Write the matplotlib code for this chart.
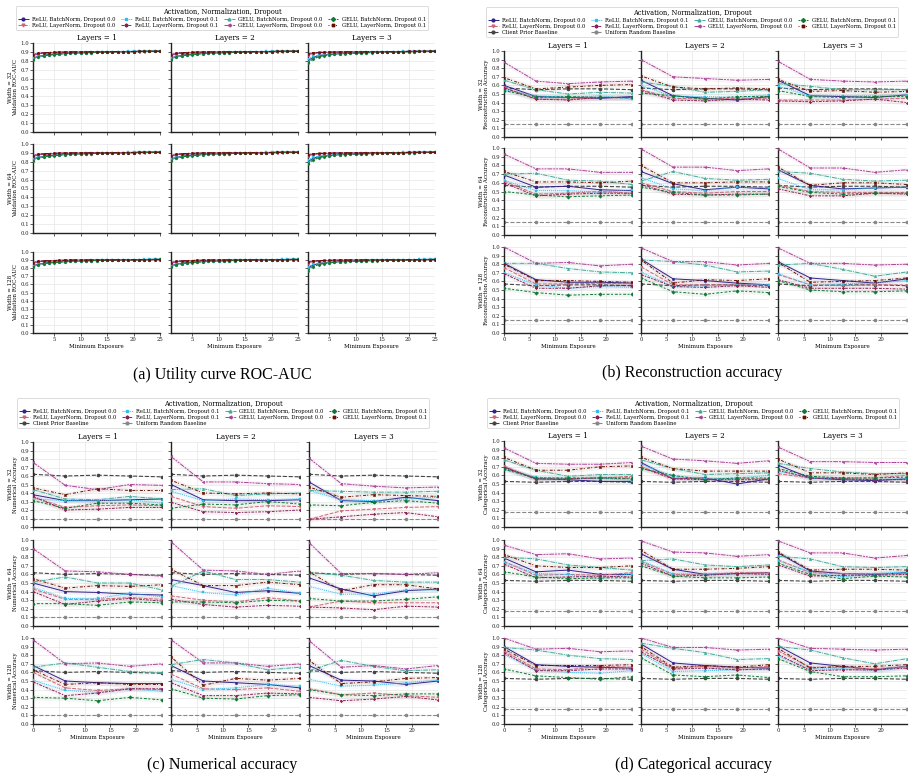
import matplotlib
matplotlib.use("Agg")
import matplotlib.pyplot as plt
from matplotlib.lines import Line2D

plt.rcParams['font.family'] = ['DejaVu Serif']

# series (same order everywhere)
series_names = ["ReLU, BatchNorm, Dropout 0.0", "ReLU, LayerNorm, Dropout 0.0",
                "ReLU, BatchNorm, Dropout 0.1", "ReLU, LayerNorm, Dropout 0.1",
                "GELU, BatchNorm, Dropout 0.0", "GELU, LayerNorm, Dropout 0.0",
                "GELU, BatchNorm, Dropout 0.1", "GELU, LayerNorm, Dropout 0.1"]
series_colors = ["#332288", "#CC6677", "#33BBEE", "#882255",
                 "#44AA99", "#AA4499", "#117733", "#661100"]
series_markers = ["o", "v", "s", "P", "^", "<", "D", "X"]
series_dashes = [(1, 0), (4, 1.5), (1, 1), (3, 1.25, 1.5, 1.25),
                 (5, 1, 1, 1), (5, 1, 2, 1, 2, 1), (2, 2, 3, 1.5), (1, 2.5, 3, 1.2)]

layers = [1, 2, 3]
widths = [32, 64, 128]

# ---- (a) utility curve ROC-AUC, minimum exposure 1..25
roc_x = list(range(1, 26))
roc_layers12 = [
    [0.83, 0.85, 0.86, 0.87, 0.875, 0.88, 0.884, 0.887, 0.889, 0.891, 0.893, 0.895, 0.897, 0.898, 0.900, 0.901, 0.902, 0.903, 0.904, 0.905, 0.906, 0.907, 0.908, 0.909, 0.910],
    [0.86, 0.88, 0.885, 0.89, 0.893, 0.895, 0.897, 0.898, 0.899, 0.900, 0.900, 0.901, 0.901, 0.902, 0.902, 0.903, 0.903, 0.903, 0.904, 0.904, 0.904, 0.905, 0.905, 0.905, 0.905],
    [0.83, 0.85, 0.862, 0.87, 0.876, 0.88, 0.884, 0.887, 0.890, 0.892, 0.894, 0.896, 0.898, 0.899, 0.901, 0.902, 0.903, 0.904, 0.905, 0.906, 0.907, 0.908, 0.909, 0.910, 0.911],
    [0.87, 0.885, 0.89, 0.893, 0.895, 0.897, 0.898, 0.899, 0.900, 0.900, 0.901, 0.901, 0.902, 0.902, 0.903, 0.903, 0.903, 0.904, 0.904, 0.904, 0.905, 0.905, 0.905, 0.905, 0.906],
    [0.82, 0.845, 0.858, 0.866, 0.872, 0.877, 0.881, 0.884, 0.887, 0.889, 0.891, 0.893, 0.895, 0.897, 0.899, 0.900, 0.901, 0.902, 0.903, 0.904, 0.905, 0.906, 0.907, 0.908, 0.909],
    [0.86, 0.88, 0.886, 0.89, 0.893, 0.895, 0.897, 0.898, 0.899, 0.900, 0.900, 0.901, 0.901, 0.902, 0.902, 0.902, 0.903, 0.903, 0.903, 0.904, 0.904, 0.904, 0.905, 0.905, 0.905],
    [0.81, 0.84, 0.855, 0.865, 0.870, 0.875, 0.880, 0.883, 0.886, 0.889, 0.891, 0.893, 0.895, 0.897, 0.899, 0.900, 0.901, 0.902, 0.903, 0.904, 0.905, 0.906, 0.907, 0.908, 0.909],
    [0.87, 0.884, 0.89, 0.893, 0.895, 0.897, 0.898, 0.899, 0.900, 0.900, 0.901, 0.901, 0.902, 0.902, 0.903, 0.903, 0.903, 0.904, 0.904, 0.904, 0.905, 0.905, 0.905, 0.906, 0.906],
]
roc_layers3 = [
    [0.80, 0.84, 0.856, 0.866, 0.873, 0.878, 0.882, 0.886, 0.889, 0.891, 0.893, 0.895, 0.897, 0.898, 0.900, 0.901, 0.902, 0.903, 0.904, 0.905, 0.906, 0.907, 0.908, 0.909, 0.910],
    [0.87, 0.885, 0.89, 0.893, 0.895, 0.897, 0.898, 0.899, 0.900, 0.900, 0.901, 0.901, 0.902, 0.902, 0.903, 0.903, 0.903, 0.904, 0.904, 0.904, 0.905, 0.905, 0.905, 0.905, 0.905],
    [0.82, 0.85, 0.863, 0.871, 0.877, 0.881, 0.885, 0.888, 0.890, 0.892, 0.894, 0.896, 0.898, 0.899, 0.901, 0.902, 0.903, 0.904, 0.905, 0.906, 0.907, 0.908, 0.909, 0.910, 0.911],
    [0.88, 0.89, 0.893, 0.895, 0.897, 0.898, 0.899, 0.900, 0.900, 0.901, 0.901, 0.902, 0.902, 0.903, 0.903, 0.903, 0.904, 0.904, 0.904, 0.905, 0.905, 0.905, 0.905, 0.906, 0.906],
    [0.79, 0.83, 0.85, 0.862, 0.869, 0.875, 0.879, 0.883, 0.886, 0.888, 0.890, 0.892, 0.894, 0.896, 0.898, 0.899, 0.900, 0.901, 0.902, 0.903, 0.904, 0.905, 0.906, 0.907, 0.908],
    [0.87, 0.885, 0.89, 0.893, 0.895, 0.897, 0.898, 0.899, 0.900, 0.900, 0.901, 0.901, 0.902, 0.902, 0.902, 0.903, 0.903, 0.903, 0.904, 0.904, 0.904, 0.905, 0.905, 0.905, 0.905],
    [0.77, 0.82, 0.845, 0.858, 0.866, 0.872, 0.877, 0.881, 0.884, 0.887, 0.889, 0.891, 0.893, 0.895, 0.897, 0.899, 0.900, 0.901, 0.902, 0.903, 0.904, 0.905, 0.906, 0.907, 0.908],
    [0.88, 0.89, 0.894, 0.896, 0.897, 0.898, 0.899, 0.900, 0.900, 0.901, 0.901, 0.902, 0.902, 0.903, 0.903, 0.903, 0.904, 0.904, 0.904, 0.905, 0.905, 0.905, 0.905, 0.906, 0.906],
]

# ---- (b)-(d), minimum exposure points
exposure = [0, 6.25, 12.5, 18.75, 25]

# each: [layers 1, layers 2, layers 3], each 8 series x 5 points
recon_w32 = [
    [[0.60, 0.47, 0.46, 0.45, 0.47], [0.58, 0.44, 0.44, 0.46, 0.45], [0.55, 0.48, 0.46, 0.48, 0.44], [0.57, 0.44, 0.43, 0.46, 0.46],
     [0.66, 0.55, 0.50, 0.52, 0.51], [0.87, 0.65, 0.62, 0.64, 0.65], [0.54, 0.46, 0.47, 0.46, 0.46], [0.69, 0.56, 0.58, 0.60, 0.61]],
    [[0.66, 0.48, 0.45, 0.43, 0.47], [0.55, 0.45, 0.44, 0.45, 0.45], [0.60, 0.47, 0.47, 0.46, 0.49], [0.54, 0.43, 0.42, 0.44, 0.43],
     [0.64, 0.59, 0.52, 0.53, 0.55], [0.90, 0.70, 0.68, 0.66, 0.67], [0.51, 0.48, 0.44, 0.47, 0.47], [0.71, 0.58, 0.56, 0.57, 0.56]],
    [[0.66, 0.48, 0.47, 0.46, 0.49], [0.43, 0.43, 0.43, 0.44, 0.45], [0.59, 0.48, 0.48, 0.48, 0.49], [0.42, 0.41, 0.42, 0.44, 0.40],
     [0.62, 0.59, 0.55, 0.55, 0.55], [0.88, 0.67, 0.65, 0.64, 0.65], [0.54, 0.47, 0.46, 0.47, 0.47], [0.67, 0.53, 0.54, 0.52, 0.53]],
]
recon_w64 = [
    [[0.69, 0.55, 0.56, 0.52, 0.51], [0.62, 0.47, 0.48, 0.50, 0.48], [0.63, 0.51, 0.51, 0.49, 0.52], [0.60, 0.45, 0.47, 0.48, 0.48],
     [0.70, 0.71, 0.63, 0.62, 0.58], [0.93, 0.76, 0.76, 0.72, 0.72], [0.50, 0.46, 0.44, 0.45, 0.46], [0.73, 0.61, 0.61, 0.60, 0.62]],
    [[0.73, 0.59, 0.52, 0.55, 0.53], [0.60, 0.50, 0.48, 0.50, 0.50], [0.66, 0.53, 0.51, 0.55, 0.54], [0.58, 0.47, 0.46, 0.47, 0.47],
     [0.62, 0.73, 0.65, 0.63, 0.64], [0.99, 0.78, 0.78, 0.74, 0.76], [0.55, 0.49, 0.46, 0.46, 0.47], [0.80, 0.60, 0.60, 0.61, 0.61]],
    [[0.75, 0.57, 0.53, 0.54, 0.55], [0.57, 0.50, 0.49, 0.49, 0.49], [0.65, 0.52, 0.52, 0.54, 0.55], [0.53, 0.45, 0.45, 0.48, 0.47],
     [0.73, 0.71, 0.64, 0.62, 0.63], [0.99, 0.77, 0.77, 0.72, 0.75], [0.56, 0.49, 0.47, 0.48, 0.48], [0.78, 0.57, 0.60, 0.60, 0.58]],
]
recon_w128 = [
    [[0.81, 0.62, 0.59, 0.59, 0.58], [0.76, 0.57, 0.57, 0.58, 0.57], [0.70, 0.56, 0.52, 0.54, 0.53], [0.69, 0.52, 0.52, 0.55, 0.55],
     [0.81, 0.81, 0.75, 0.71, 0.70], [1.00, 0.81, 0.82, 0.78, 0.80], [0.52, 0.47, 0.44, 0.45, 0.45], [0.80, 0.61, 0.61, 0.60, 0.59]],
    [[0.86, 0.63, 0.61, 0.58, 0.56], [0.77, 0.56, 0.56, 0.56, 0.56], [0.71, 0.54, 0.55, 0.56, 0.56], [0.68, 0.54, 0.53, 0.55, 0.53],
     [0.85, 0.83, 0.79, 0.71, 0.72], [0.99, 0.83, 0.83, 0.79, 0.81], [0.64, 0.48, 0.45, 0.49, 0.47], [0.85, 0.58, 0.62, 0.61, 0.63]],
    [[0.83, 0.64, 0.61, 0.58, 0.63], [0.68, 0.56, 0.55, 0.56, 0.56], [0.69, 0.56, 0.57, 0.58, 0.61], [0.62, 0.52, 0.52, 0.52, 0.51],
     [0.79, 0.81, 0.74, 0.66, 0.71], [0.99, 0.81, 0.81, 0.79, 0.80], [0.61, 0.50, 0.48, 0.48, 0.49], [0.82, 0.59, 0.60, 0.61, 0.64]],
]
recon_client = [0.57, 0.55, 0.56, 0.56, 0.55]
recon_uniform = [0.15, 0.15, 0.15, 0.15, 0.15]

num_w32 = [
    [[0.38, 0.31, 0.31, 0.32, 0.33], [0.35, 0.23, 0.25, 0.26, 0.25], [0.33, 0.31, 0.31, 0.32, 0.28], [0.36, 0.20, 0.21, 0.23, 0.23],
     [0.44, 0.33, 0.32, 0.36, 0.33], [0.76, 0.49, 0.44, 0.50, 0.49], [0.31, 0.22, 0.28, 0.28, 0.26], [0.46, 0.38, 0.45, 0.43, 0.43]],
    [[0.50, 0.32, 0.31, 0.31, 0.32], [0.36, 0.24, 0.22, 0.25, 0.24], [0.42, 0.31, 0.33, 0.32, 0.33], [0.29, 0.18, 0.17, 0.18, 0.20],
     [0.44, 0.45, 0.37, 0.39, 0.40], [0.83, 0.53, 0.53, 0.51, 0.50], [0.22, 0.27, 0.26, 0.30, 0.27], [0.55, 0.40, 0.39, 0.40, 0.39]],
    [[0.53, 0.31, 0.30, 0.35, 0.31], [0.09, 0.19, 0.21, 0.23, 0.24], [0.43, 0.32, 0.31, 0.33, 0.35], [0.09, 0.12, 0.15, 0.17, 0.12],
     [0.43, 0.42, 0.41, 0.41, 0.42], [0.81, 0.51, 0.48, 0.46, 0.47], [0.26, 0.25, 0.29, 0.31, 0.28], [0.47, 0.35, 0.38, 0.37, 0.36]],
]
num_w64 = [
    [[0.50, 0.40, 0.39, 0.37, 0.36], [0.43, 0.31, 0.31, 0.33, 0.31], [0.45, 0.32, 0.32, 0.38, 0.34], [0.40, 0.25, 0.29, 0.32, 0.29],
     [0.51, 0.57, 0.50, 0.50, 0.42], [0.90, 0.64, 0.63, 0.60, 0.58], [0.26, 0.26, 0.24, 0.28, 0.27], [0.55, 0.44, 0.47, 0.46, 0.48]],
    [[0.54, 0.47, 0.39, 0.41, 0.38], [0.35, 0.30, 0.28, 0.33, 0.29], [0.47, 0.39, 0.36, 0.44, 0.38], [0.31, 0.25, 0.22, 0.24, 0.23],
     [0.46, 0.64, 0.54, 0.54, 0.51], [0.98, 0.65, 0.64, 0.60, 0.64], [0.28, 0.28, 0.27, 0.30, 0.29], [0.66, 0.47, 0.47, 0.51, 0.48]],
    [[0.56, 0.43, 0.35, 0.41, 0.43], [0.22, 0.29, 0.27, 0.27, 0.27], [0.46, 0.37, 0.37, 0.42, 0.42], [0.22, 0.21, 0.19, 0.23, 0.22],
     [0.62, 0.59, 0.53, 0.51, 0.51], [0.97, 0.61, 0.61, 0.60, 0.62], [0.32, 0.29, 0.29, 0.31, 0.34], [0.63, 0.41, 0.48, 0.48, 0.43]],
]
num_w128 = [
    [[0.68, 0.50, 0.48, 0.47, 0.47], [0.60, 0.42, 0.39, 0.41, 0.40], [0.51, 0.39, 0.37, 0.41, 0.38], [0.49, 0.33, 0.36, 0.41, 0.41],
     [0.66, 0.71, 0.66, 0.61, 0.60], [0.98, 0.70, 0.71, 0.67, 0.70], [0.31, 0.30, 0.27, 0.31, 0.28], [0.63, 0.46, 0.48, 0.46, 0.46]],
    [[0.68, 0.50, 0.48, 0.46, 0.42], [0.58, 0.41, 0.40, 0.42, 0.38], [0.52, 0.40, 0.42, 0.46, 0.44], [0.48, 0.33, 0.33, 0.36, 0.35],
     [0.69, 0.75, 0.71, 0.63, 0.66], [0.98, 0.71, 0.71, 0.67, 0.70], [0.41, 0.30, 0.29, 0.33, 0.34], [0.78, 0.45, 0.53, 0.51, 0.53]],
    [[0.68, 0.51, 0.50, 0.46, 0.50], [0.41, 0.34, 0.36, 0.33, 0.31], [0.52, 0.44, 0.45, 0.48, 0.51], [0.31, 0.27, 0.29, 0.32, 0.28],
     [0.62, 0.74, 0.67, 0.62, 0.63], [0.97, 0.66, 0.68, 0.64, 0.68], [0.40, 0.34, 0.33, 0.35, 0.35], [0.74, 0.47, 0.49, 0.53, 0.54]],
]
num_client = [0.62, 0.60, 0.61, 0.60, 0.59]
num_uniform = [0.10, 0.10, 0.10, 0.10, 0.10]

cat_w32 = [
    [[0.70, 0.56, 0.55, 0.53, 0.53], [0.71, 0.55, 0.56, 0.57, 0.59], [0.67, 0.58, 0.56, 0.57, 0.54], [0.69, 0.56, 0.56, 0.57, 0.57],
     [0.78, 0.66, 0.59, 0.61, 0.61], [0.92, 0.74, 0.73, 0.73, 0.75], [0.67, 0.57, 0.57, 0.57, 0.56], [0.81, 0.66, 0.66, 0.70, 0.71]],
    [[0.75, 0.56, 0.57, 0.50, 0.56], [0.70, 0.57, 0.56, 0.56, 0.56], [0.73, 0.59, 0.56, 0.57, 0.60], [0.69, 0.56, 0.55, 0.55, 0.55],
     [0.78, 0.68, 0.61, 0.62, 0.63], [0.94, 0.79, 0.77, 0.74, 0.77], [0.68, 0.60, 0.55, 0.57, 0.57], [0.81, 0.68, 0.65, 0.65, 0.65]],
    [[0.72, 0.57, 0.55, 0.54, 0.56], [0.62, 0.57, 0.57, 0.57, 0.60], [0.65, 0.57, 0.56, 0.55, 0.56], [0.66, 0.57, 0.56, 0.55, 0.55],
     [0.74, 0.68, 0.64, 0.62, 0.62], [0.93, 0.76, 0.76, 0.75, 0.75], [0.68, 0.59, 0.57, 0.57, 0.58], [0.79, 0.63, 0.63, 0.61, 0.63]],
]
cat_w64 = [
    [[0.79, 0.63, 0.65, 0.60, 0.60], [0.75, 0.59, 0.60, 0.59, 0.62], [0.74, 0.61, 0.60, 0.55, 0.61], [0.72, 0.56, 0.57, 0.58, 0.57],
     [0.80, 0.78, 0.71, 0.68, 0.65], [0.94, 0.83, 0.84, 0.78, 0.79], [0.63, 0.57, 0.55, 0.56, 0.56], [0.83, 0.70, 0.68, 0.68, 0.70]],
    [[0.84, 0.66, 0.60, 0.61, 0.62], [0.75, 0.60, 0.60, 0.62, 0.62], [0.76, 0.61, 0.60, 0.61, 0.61], [0.73, 0.58, 0.59, 0.61, 0.60],
     [0.76, 0.78, 0.71, 0.69, 0.71], [0.99, 0.86, 0.85, 0.81, 0.83], [0.70, 0.58, 0.56, 0.56, 0.57], [0.88, 0.66, 0.66, 0.67, 0.69]],
    [[0.85, 0.64, 0.61, 0.60, 0.62], [0.77, 0.62, 0.61, 0.61, 0.61], [0.76, 0.63, 0.57, 0.61, 0.63], [0.71, 0.58, 0.59, 0.59, 0.60],
     [0.81, 0.78, 0.69, 0.68, 0.69], [0.99, 0.85, 0.85, 0.79, 0.82], [0.73, 0.60, 0.55, 0.58, 0.57], [0.86, 0.65, 0.66, 0.66, 0.65]],
]
cat_w128 = [
    [[0.90, 0.69, 0.67, 0.66, 0.65], [0.85, 0.64, 0.63, 0.67, 0.66], [0.81, 0.63, 0.60, 0.59, 0.62], [0.83, 0.62, 0.62, 0.64, 0.64],
     [0.89, 0.86, 0.80, 0.76, 0.75], [1.00, 0.87, 0.88, 0.84, 0.85], [0.64, 0.56, 0.54, 0.52, 0.55], [0.87, 0.68, 0.68, 0.68, 0.69]],
    [[0.93, 0.71, 0.68, 0.66, 0.65], [0.87, 0.65, 0.67, 0.65, 0.67], [0.82, 0.61, 0.62, 0.63, 0.64], [0.84, 0.64, 0.65, 0.63, 0.64],
     [0.94, 0.88, 0.83, 0.75, 0.76], [1.00, 0.89, 0.89, 0.86, 0.87], [0.77, 0.57, 0.55, 0.57, 0.54], [0.90, 0.66, 0.68, 0.66, 0.69]],
    [[0.91, 0.71, 0.67, 0.63, 0.67], [0.85, 0.66, 0.66, 0.64, 0.67], [0.79, 0.64, 0.64, 0.62, 0.67], [0.81, 0.62, 0.63, 0.63, 0.65],
     [0.90, 0.86, 0.77, 0.70, 0.76], [1.00, 0.88, 0.87, 0.86, 0.87], [0.76, 0.61, 0.55, 0.55, 0.56], [0.88, 0.65, 0.67, 0.67, 0.69]],
]
cat_client = [0.53, 0.52, 0.53, 0.53, 0.52]
cat_uniform = [0.18, 0.18, 0.18, 0.18, 0.18]

band = 0.03  # half width of the faint confidence band

W, H = 915, 780
fig = plt.figure(figsize=(W / 100, H / 100), dpi=100)


def box(x0, y0, x1, y1):
    return [x0 / W, 1 - y1 / H, (x1 - x0) / W, (y1 - y0) / H]


def style_axes(ax, col, row, xticks, xlim, ylabel):
    ax.set_ylim(0, 1)
    ax.set_xlim(*xlim)
    ax.set_yticks([i / 10 for i in range(11)])
    ax.set_xticks(xticks)
    ax.grid(True, color='#e6e6e6', lw=0.5)
    ax.set_axisbelow(True)
    for s in ['top', 'right']:
        ax.spines[s].set_visible(False)
    for s in ['left', 'bottom']:
        ax.spines[s].set_linewidth(1.0)
        ax.spines[s].set_color('#222222')
    ax.tick_params(length=2, width=0.5, labelsize=3.9, pad=1, colors='#222222')
    if col > 0:
        ax.tick_params(labelleft=False)
    else:
        ax.set_ylabel(f"Width = {widths[row]}\n{ylabel}", fontsize=4.0, labelpad=1.5, linespacing=1.1)
    if row < 2:
        ax.tick_params(labelbottom=False)
    else:
        ax.set_xlabel("Minimum Exposure", fontsize=4.0, labelpad=1.5)
    if row == 0:
        ax.set_title(f"Layers = {layers[col]}", fontsize=5.2, pad=2)


def draw_series(ax, x, ys):
    for i, y in enumerate(ys):
        ax.plot(x, y, color=series_colors[i], lw=0.7, dashes=series_dashes[i],
                marker=series_markers[i], ms=1.8, mew=0.3, zorder=3)


def draw_baselines(ax, x, client, uniform):
    ax.plot(x, client, color='#444444', lw=0.8, ls='--', marker='o', ms=1.6, zorder=2)
    ax.plot(x, uniform, color='#888888', lw=0.8, ls='--', marker='o', ms=1.6, zorder=2)


def bands(ax, x, ys):
    for i, y in enumerate(ys):
        ax.fill_between(x, [v - band for v in y], [v + band for v in y],
                        color=series_colors[i], alpha=0.06, lw=0, zorder=1)


def make_legend(cx, cy, with_baselines):
    handles = [Line2D([], [], color=series_colors[i], lw=0.7, dashes=series_dashes[i],
                      marker=series_markers[i], ms=2) for i in range(8)]
    labels = list(series_names)
    if with_baselines:
        client_h = Line2D([], [], color='#444444', lw=0.8, ls='--', marker='o', ms=2)
        unif_h = Line2D([], [], color='#888888', lw=0.8, ls='--', marker='o', ms=2)
        handles = handles[:2] + [client_h] + handles[2:4] + [unif_h] + handles[4:]
        labels = labels[:2] + ["Client Prior Baseline"] + labels[2:4] + ["Uniform Random Baseline"] + labels[4:]
    leg = fig.legend(handles, labels, loc='center', bbox_to_anchor=(cx / W, 1 - cy / H),
                     ncol=4, fontsize=3.8, title="Activation, Normalization, Dropout",
                     title_fontsize=4.8, frameon=True, edgecolor='#cccccc', fancybox=True,
                     handlelength=2.0, columnspacing=1.1, borderpad=0.35, labelspacing=0.15,
                     handletextpad=0.6)
    leg.get_frame().set_linewidth(0.6)


# ---- panel (a)
a_cols = [(33, 160), (171, 298), (308, 435)]
a_rows = [(43, 132), (144, 233), (252, 333)]
for r in range(3):
    for c in range(3):
        ax = fig.add_axes(box(a_cols[c][0], a_rows[r][0], a_cols[c][1], a_rows[r][1]))
        ys = roc_layers3 if c == 2 else roc_layers12
        for i, y in enumerate(ys):
            ax.plot(roc_x, y, color=series_colors[i], lw=0.8, dashes=series_dashes[i],
                    marker=series_markers[i], ms=1.6, mew=0.3, zorder=3)
        style_axes(ax, c, r, [5, 10, 15, 20, 25], (1, 25), "Validation ROC-AUC")
make_legend(222, 18, False)
fig.text(222 / W, 1 - 375 / H, "(a) Utility curve ROC-AUC", ha='center', va='center',
         family='Liberation Serif', fontsize=11.5)

# ---- panels (b)-(d)
panels = [
    (455, "Reconstruction Accuracy", [recon_w32, recon_w64, recon_w128], recon_client, recon_uniform,
     [(51, 137), (148, 235), (247, 333)], (692, 22), (692, 373), "(b) Reconstruction accuracy"),
    (0, "Numerical Accuracy", [num_w32, num_w64, num_w128], num_client, num_uniform,
     [(442, 527), (540, 626), (638, 724)], (223, 413), (222, 765), "(c) Numerical accuracy"),
    (455, "Categorical Accuracy", [cat_w32, cat_w64, cat_w128], cat_client, cat_uniform,
     [(441, 527), (540, 626), (638, 724)], (693, 413), (693, 765), "(d) Categorical accuracy"),
]
col_offsets = [(49, 177), (186, 314), (323, 452)]
for x_off, ylab, data, client, uniform, rows, leg_c, cap_c, caption in panels:
    if x_off == 0:
        cols = [(33, 162), (171, 300), (309, 438)]
    else:
        cols = [(x_off + a, x_off + b) for a, b in col_offsets]
    for r in range(3):
        for c in range(3):
            ax = fig.add_axes(box(cols[c][0], rows[r][0], cols[c][1], rows[r][1]))
            ys = data[r][c]
            bands(ax, exposure, ys)
            draw_baselines(ax, exposure, client, uniform)
            draw_series(ax, exposure, ys)
            style_axes(ax, c, r, [0, 5, 10, 15, 20], (0, 25), ylab)
    make_legend(leg_c[0], leg_c[1], True)
    fig.text(cap_c[0] / W, 1 - cap_c[1] / H, caption, ha='center', va='center',
             family='Liberation Serif', fontsize=11.5)

fig.savefig("out.png", dpi=100)
